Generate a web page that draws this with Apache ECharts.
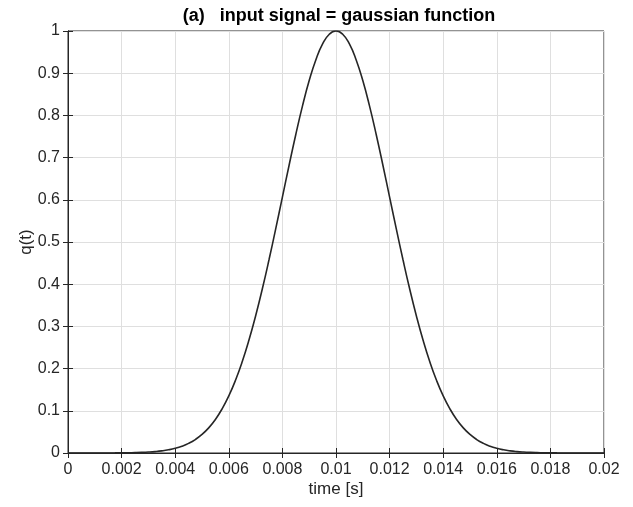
<!DOCTYPE html>
<html><head><meta charset="utf-8">
<script src="https://cdn.jsdelivr.net/npm/echarts@6/dist/echarts.min.js"></script>
<style>html,body{margin:0;padding:0;background:#fff}#c{width:633px;height:507px}</style>
</head><body><div id="c"></div>
<script>
var titleText = '(a)   input signal = gaussian function';
var xName = 'time [s]';
var yName = 'q(t)';
var times = [0,0.00025,0.0005,0.00075,0.001,0.00125,0.0015,0.00175,0.002,0.00225,0.0025,0.00275,0.003,0.00325,0.0035,0.00375,0.004,0.00425,0.0045,0.00475,0.005,0.00525,0.0055,0.00575,0.006,0.00625,0.0065,0.00675,0.007,0.00725,0.0075,0.00775,0.008,0.00825,0.0085,0.00875,0.009,0.00925,0.0095,0.00975,0.01,
  0.01025,0.0105,0.01075,0.011,0.01125,0.0115,0.01175,0.012,0.01225,0.0125,0.01275,0.013,0.01325,0.0135,0.01375,0.014,0.01425,0.0145,0.01475,0.015,0.01525,0.0155,0.01575,0.016,0.01625,0.0165,0.01675,0.017,0.01725,0.0175,0.01775,0.018,0.01825,0.0185,0.01875,0.019,0.01925,0.0195,0.01975,0.02];
var qValues = [0,0.00001,0.00001,0.00002,0.00004,0.00007,0.00012,0.0002,0.00034,0.00055,0.00088,0.0014,0.00219,0.00336,0.00508,0.00757,0.01111,0.01604,0.02279,0.03189,0.04394,0.05957,0.07956,0.10458,0.13534,0.17242,0.21627,0.26705,0.32465,0.38857,0.45783,0.5311,0.60653,0.68196,0.75484,0.82258,0.8825,0.9321,0.96923,0.99222,1,
  0.99222,0.96923,0.9321,0.8825,0.82258,0.75484,0.68196,0.60653,0.5311,0.45783,0.38857,0.32465,0.26705,0.21627,0.17242,0.13534,0.10458,0.07956,0.05957,0.04394,0.03189,0.02279,0.01604,0.01111,0.00757,0.00508,0.00336,0.00219,0.0014,0.00088,0.00055,0.00034,0.0002,0.00012,0.00007,0.00004,0.00002,0.00001,0.00001,0];

var data = times.map(function(t,i){return [t,qValues[i]];});
var font = 'Liberation Sans, Arial, Helvetica, sans-serif';
var lab = {color:'#262626', fontSize:16, fontFamily:font};
var chart = echarts.init(document.getElementById('c'));
function fmt(v){return String(parseFloat(v.toFixed(4)));}
var tick = {show:true,inside:true,length:5,lineStyle:{color:'#262626'}};
chart.setOption({
  animation:false,
  title:{text:titleText,left:334,textAlign:'center',top:2,textStyle:{fontSize:18,fontWeight:'bold',color:'#000',fontFamily:font}},
  grid:{left:68,right:29,top:31,bottom:54,show:true,borderColor:'#262626',borderWidth:1},
  xAxis:[{type:'value',min:0,max:0.02,interval:0.002,name:xName,nameLocation:'middle',nameGap:28,nameMoveOverlap:false,
    nameTextStyle:{color:'#262626',fontSize:17,fontFamily:font},
    axisLine:{show:true,onZero:false,lineStyle:{color:'#262626'}},
    axisTick:tick,
    axisLabel:Object.assign({formatter:fmt,margin:9},lab),
    splitLine:{show:true,lineStyle:{color:'#dfdfdf',width:1}}},
   {type:'value',position:'top',min:0,max:0.02,interval:0.002,
    axisLine:{show:true,lineStyle:{color:'#262626'}},
    axisTick:tick,axisLabel:{show:false},splitLine:{show:false}}],
  yAxis:[{type:'value',min:0,max:1,interval:0.1,name:yName,nameLocation:'middle',nameGap:33,nameRotate:90,nameMoveOverlap:false,
    nameTextStyle:{color:'#262626',fontSize:17,fontFamily:font},
    axisLine:{show:true,onZero:false,lineStyle:{color:'#262626'}},
    axisTick:tick,
    axisLabel:Object.assign({formatter:fmt,margin:8},lab),
    splitLine:{show:true,lineStyle:{color:'#dfdfdf',width:1}}},
   {type:'value',position:'right',min:0,max:1,interval:0.1,
    axisLine:{show:true,lineStyle:{color:'#262626'}},
    axisTick:tick,axisLabel:{show:false},splitLine:{show:false}}],
  series:[{type:'line',data:data,smooth:true,showSymbol:false,lineStyle:{color:'#262626',width:1.6}}]
});
</script></body></html>
